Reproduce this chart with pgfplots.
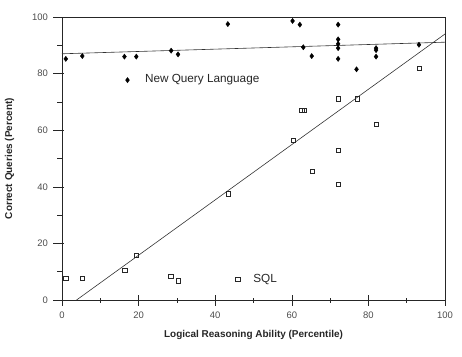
\documentclass[border=0pt]{standalone}
\usepackage{fontspec}
\setmainfont{Liberation Sans}
\usepackage{pgfplots}
\pgfplotsset{compat=1.18}
\begin{document}
\begin{tikzpicture}
\begin{axis}[
  scale only axis, width=383bp, height=283bp,
  xmin=0, xmax=100, ymin=0, ymax=100,
  xtick={0,20,...,100}, ytick={0,20,...,100},
  minor xtick={10,30,50,70,90}, minor ytick={10,30,50,70,90},
  tick pos=left, tick align=center,
  major tick length=11bp, minor tick length=5bp,
  tick style={black!85, line width=0.6pt},
  every major y tick/.append style={xshift=-3bp},
  every minor y tick/.append style={xshift=-2bp},
  axis line style={black!85, line width=0.7pt},
  /pgf/number format/assume math mode=true,
  ticklabel style={font=\fontsize{9.5}{11}\selectfont, color=black!70},
  xticklabel style={yshift=-3bp},
  yticklabel style={xshift=-5bp},
  xlabel={\textbf{Logical Reasoning Ability (Percentile)}},
  ylabel={\textbf{Correct Queries (Percent)}},
  label style={font=\fontsize{10}{12}\selectfont, color=black!85},
  xlabel style={at={(axis description cs:0.5,-0.124)}, anchor=center},
  ylabel style={at={(axis description cs:-0.137,0.5)}, anchor=center},
]
% regression lines
\addplot[black!80, line width=0.6pt] coordinates {(0,87) (100,91.1)};
\addplot[black!80, line width=0.6pt] coordinates {(3.8,0) (100,94)};
% New Query Language
\addplot[only marks, mark=diamond*, mark size=2.6pt, black] coordinates {
 (1.0,85.2) (5.3,86.2) (16.3,86.0) (19.4,86.0) (28.5,88.1) (30.3,86.8)
 (43.3,97.5) (60.2,98.6) (62.1,97.3) (63.0,89.3) (65.2,86.2)
 (72.1,97.3) (72.1,92.1) (72.1,90.5) (72.1,89.0) (72.1,85.2)
 (76.9,81.5) (82.0,89.0) (82.0,88.3) (82.0,86.0) (93.2,90.2)
};
% SQL
\addplot[only marks, mark=square, mark size=2.1pt, black!85, mark options={line width=0.6pt}] coordinates {
 (1.0,7.8) (5.3,7.8) (16.4,10.6) (19.5,15.7) (28.4,8.5) (30.4,6.8)
 (43.4,37.5) (60.4,56.4) (62.6,67.0) (63.3,67.0) (65.3,45.4)
 (72.2,71.1) (72.2,52.9) (72.2,41.0) (77.1,71.1) (82.0,62.1) (93.3,81.9)
};
% legend-like labels
\addplot[only marks, mark=diamond*, mark size=2.6pt, black] coordinates {(17.1,77.7)}
  node[right, xshift=14bp, font=\fontsize{11.8}{13}\selectfont, text=black!85] {New Query Language};
\addplot[only marks, mark=square, mark size=2.1pt, black!85, mark options={line width=0.6pt}] coordinates {(45.9,7.4)}
  node[right, xshift=12bp, font=\fontsize{11.8}{13}\selectfont, text=black!85] {SQL};
\end{axis}
\pgfresetboundingbox
\path[use as bounding box] ([xshift=-62bp,yshift=-57bp]current axis.south west) rectangle ([xshift=17bp,yshift=17bp]current axis.north east);
\end{tikzpicture}
\end{document}
